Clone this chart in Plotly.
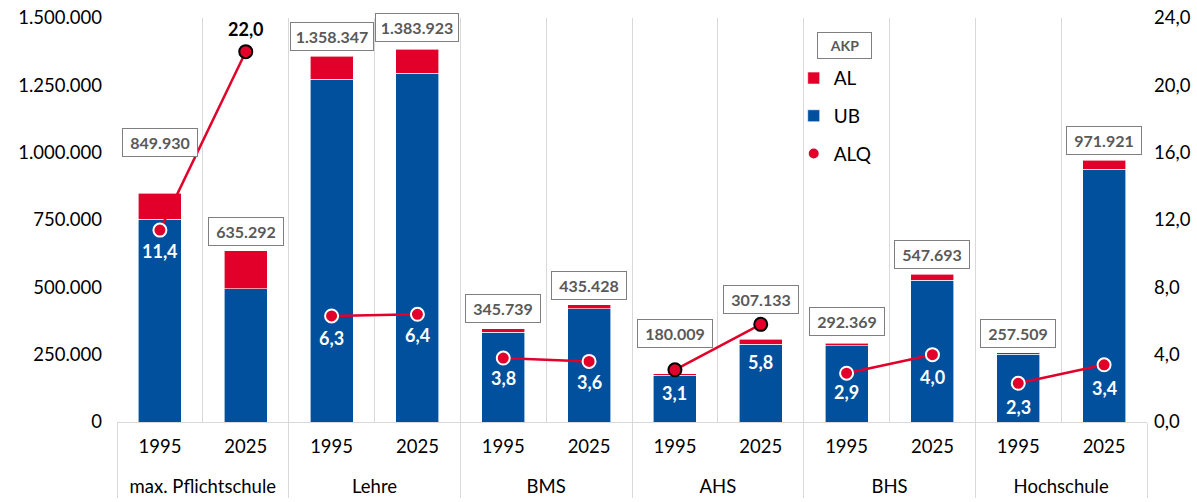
import plotly.graph_objects as go

groups = ["max. Pflichtschule", "Lehre", "BMS", "AHS", "BHS", "Hochschule"]
years = ["1995", "2025"]

ub = [753040, 495530, 1272770, 1295350, 332600, 419750,
      174430, 289320, 283890, 525790, 251590, 938880]
al = [96890, 139760, 85580, 88570, 13140, 15680,
      5580, 17810, 8480, 21910, 5920, 33040]
totals = [849930, 635292, 1358347, 1383923, 345739, 435428,
          180009, 307133, 292369, 547693, 257509, 971921]
alq = [11.4, 22.0, 6.3, 6.4, 3.8, 3.6, 3.1, 5.8, 2.9, 4.0, 2.3, 3.4]

# presentation settings (not data)
box_gap = [36, 5, 5, 7, 6, 5, 26, 25, 7, 5, 5, 5]          # px above bar top
lbl_off = [21, -23, 22, 21, 20, 21, 23, 38, 19, 22, 24, 23]  # px below marker
lbl_col = ["white", "black"] + ["white"] * 10
mk_edge = ["white", "black", "white", "white", "white", "white",
           "black", "black", "white", "white", "white", "white"]

BLUE = "#00509E"
RED = "#E2002A"
GRID = "#D9D9D9"
FONT = "Lato, sans-serif"

# tick text for the year level gets an extra blank line so the group row sits lower
year_lbl = [f"{y}<br> " for y in years]
xcat = [[g for g in groups for _ in years], [y for _ in groups for y in year_lbl]]

fig = go.Figure()
fig.add_trace(go.Bar(x=xcat, y=ub, name="UB", marker=dict(color=BLUE, line=dict(color="white", width=0.6)),
                     legendgroup="b", legendrank=2))
fig.add_trace(go.Bar(x=xcat, y=al, name="AL", marker=dict(color=RED, line=dict(color="white", width=0.6)),
                     legendgroup="a", legendrank=1))

for gi, g in enumerate(groups):
    idx = [2 * gi, 2 * gi + 1]
    fig.add_trace(go.Scatter(
        x=[[g, g], year_lbl], y=[alq[i] for i in idx], yaxis="y2", mode="lines+markers",
        line=dict(color=RED, width=2.5),
        marker=dict(size=13, color=RED, line=dict(color=[mk_edge[i] for i in idx], width=2)),
        showlegend=False, hoverinfo="y"))

fig.add_trace(go.Scatter(x=[None], y=[None], yaxis="y2", mode="markers", name="ALQ",
                         marker=dict(size=10, color=RED), legendgroup="c", legendrank=3))

ann = []
for i, t in enumerate(totals):
    s = f"{t:,}".replace(",", ".")
    ann.append(dict(x=i, y=t, xref="x", yref="y", yanchor="bottom", yshift=box_gap[i],
                    text="<b>" + s + "</b>", showarrow=False,
                    width=66 if len(s) < 8 else 74, height=19,
                    font=dict(family=FONT, size=16, color="#595959"),
                    bordercolor="#7F7F7F", borderwidth=1, borderpad=4, bgcolor="white"))
for i, v in enumerate(alq):
    ann.append(dict(x=i, y=v, xref="x", yref="y2", yanchor="middle", yshift=-lbl_off[i],
                    text=f"<b>{v:.1f}</b>".replace(".", ","), showarrow=False,
                    font=dict(family=FONT, size=18, color=lbl_col[i])))
ann.append(dict(x=0.6795, y=0.965, xref="paper", yref="paper", xanchor="left", yanchor="top",
                text="<b>AKP</b>", showarrow=False, width=45, height=17,
                font=dict(family=FONT, size=14, color="#595959"),
                bordercolor="#7F7F7F", borderwidth=1, borderpad=4, bgcolor="white"))

fig.update_layout(
    width=1197, height=502, margin=dict(l=117, r=50, t=18, b=80),
    paper_bgcolor="white", plot_bgcolor="white",
    separators=",.", barmode="stack", bargap=0.5,
    font=dict(family=FONT, size=18, color="black"),
    annotations=ann,
    legend=dict(x=0.657, y=0.898, xanchor="left", yanchor="top", traceorder="grouped",
                tracegroupgap=10, font=dict(family=FONT, size=19), bgcolor="rgba(0,0,0,0)",
                itemwidth=30),
    xaxis=dict(type="multicategory", tickson="boundaries", showgrid=True, gridcolor=GRID, gridwidth=1,
               showdividers=True, dividercolor=GRID, dividerwidth=1, showline=True, linecolor=GRID,
               ticks="", tickfont=dict(size=18.5), automargin=False, range=[-0.5, 11.5],
               ticklabelstandoff=8),
    yaxis=dict(range=[0, 1500000], dtick=250000, tickformat=",d", showgrid=False, zeroline=False,
               ticklabelstandoff=14, tickfont=dict(size=18.5), automargin=False),
    yaxis2=dict(range=[0, 24], dtick=4, tickformat=".1f", overlaying="y", side="right",
                showgrid=False, zeroline=False, ticklabelstandoff=6, tickfont=dict(size=18.5),
                automargin=False),
)

fig.write_html("out.html", config={"displayModeBar": False},
               post_script="document.body.style.margin='0';")
